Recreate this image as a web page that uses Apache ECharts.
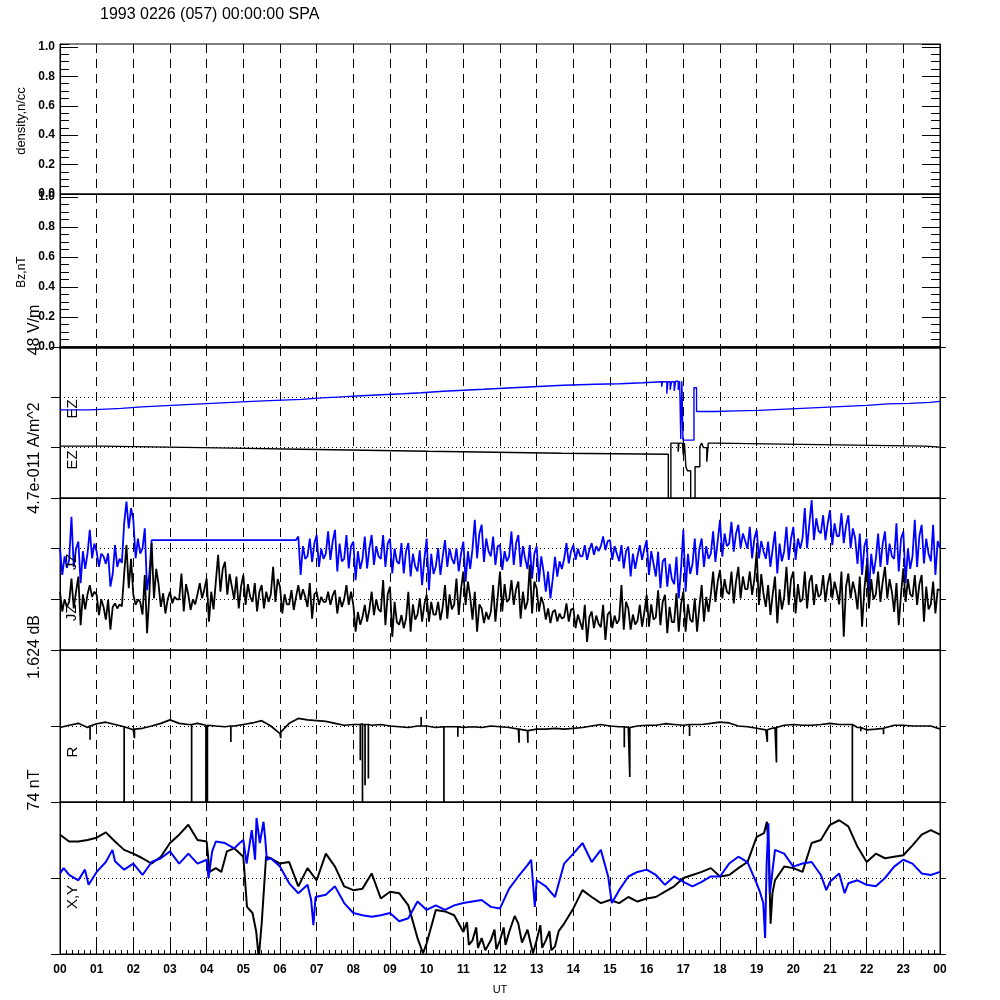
<!DOCTYPE html>
<html><head><meta charset="utf-8">
<script src="https://cdn.jsdelivr.net/npm/echarts@6/dist/echarts.min.js"></script>
<style>html,body{margin:0;padding:0;background:#fff}#c{width:1000px;height:1000px}</style>
</head><body><div id="c"></div>
<script>
// ---------- DATA ----------
const hourLabels = ['00','01','02','03','04','05','06','07','08','09','10','11','12','13','14','15','16','17','18','19','20','21','22','23','00'];
const titleText = '1993 0226 (057) 00:00:00 SPA';

// EZ (panel 3), step data [hour, value]; reference lines at 2 (blue) and 1 (black)
const ezBlue = [[0,1.75],[0.82,1.78],[1.68,1.81],[2.23,1.83],[2.77,1.85],[3.32,1.87],[3.86,1.89],[4.41,1.91],[4.95,1.93],[5.55,1.96],[6.59,1.99],[7.14,2.01],[7.68,2.03],[8.23,2.05],[8.77,2.07],[9.36,2.09],[9.86,2.12],[10.45,2.14],[11.0,2.16],[11.55,2.18],[12.09,2.2],[12.64,2.22],[13.18,2.24],[13.73,2.26],[14.6,2.27],[15.27,2.29],[15.9,2.31],
  [16.41,2.21],[16.43,2.31],[16.55,2.07],[16.58,2.31],[16.64,2.15],[16.68,2.31],[16.75,2.13],[16.79,2.32],[16.86,2.15],[16.9,2.32],[16.93,1.17],[16.96,2.32],[16.99,1.15],[17.29,2.19],[17.36,1.72],
  [17.86,1.73],[18.45,1.74],[19.05,1.76],[19.64,1.78],[20.23,1.8],[20.82,1.82],[21.41,1.84],[22.0,1.87],[22.59,1.88],[23.18,1.9],[23.73,1.92],[24,1.92]];
const ezBlack = [[0,1.03],[1.17,1.01],[2.95,0.99],[4.72,0.97],[6.55,0.95],[8.32,0.93],[10.03,0.91],[11.9,0.89],[13.68,0.87],
  [16.59,-0.1],[16.66,1.09],[16.86,0.92],[16.88,1.09],[16.98,1.05],[17.0,0.85],[17.03,1.09],[17.07,0.62],[17.11,0.54],[17.2,-0.1],[17.32,0.62],[17.45,1.02],[17.5,1.09],[17.55,1.0],[17.64,0.72],[17.68,1.09],
  [17.86,1.07],[19.73,1.05],[21.68,1.03],[23.6,1.01],[24,1.01]];

// JZ (panel 4): samples every 0.0625 h, four readings per quarter hour
const jzStep = 0.0625;
const jzBlue = [
 2.01,1.48,1.85,1.62, 1.78,2.63,1.64,2.0, 2.14,1.32,1.95,1.6, 1.9,2.37,1.81,2.1,
 1.94,1.64,1.9,1.85, 1.7,1.91,1.25,1.5, 2.07,1.64,1.8,1.72, 2.5,2.93,2.4,2.8,
 2.57,1.81,2.2,1.9, 2.0,2.40,1.18,1.5,
 2.17,2.17,2.17,2.17, 2.17,2.17,2.17,2.17, 2.17,2.17,2.17,2.17, 2.17,2.17,2.17,2.17,
 2.17,2.17,2.17,2.17, 2.17,2.17,2.17,2.17, 2.17,2.17,2.17,2.17, 2.17,2.17,2.17,2.17,
 2.17,2.17,2.17,2.17, 2.17,2.17,2.17,2.17, 2.17,2.17,2.17,2.17, 2.17,2.17,2.17,2.17,
 2.17,2.17,2.17,2.17, 2.17,2.17,2.17,2.17, 2.17,2.17,2.17,2.17, 2.17,2.17,2.17,2.17,
 2.24,1.48,2.05,1.8, 1.85,2.20,1.74,2.1, 2.27,1.64,2.0,1.8, 1.9,2.34,1.78,2.15,
 2.37,1.55,2.1,1.75, 1.8,2.27,1.61,2.05, 2.14,1.38,1.95,1.6, 1.8,2.24,1.61,2.0,
 2.27,1.68,2.05,1.85, 1.8,2.27,1.64,2.1, 2.20,1.51,2.0,1.75, 1.7,2.11,1.51,1.95,
 2.11,1.45,1.9,1.65, 1.55,1.97,1.28,1.8, 2.20,1.18,1.9,1.5, 1.65,2.01,1.48,1.85,
 2.17,1.64,2.0,1.8, 1.7,2.01,1.55,1.9, 2.14,1.35,1.95,1.6, 2.0,2.57,1.81,2.3,
 2.47,1.74,2.2,1.95, 1.85,2.24,1.68,2.05,
 2.07,1.58,1.95,1.75, 1.85,2.34,1.68,2.1, 2.27,1.64,2.05,1.8, 1.6,2.07,1.41,1.9,
 2.04,1.35,1.85,1.55, 1.15,1.55,1.02,1.4, 1.84,1.45,1.75,1.6, 1.8,2.11,1.71,1.95,
 2.07,1.78,2.0,1.85, 1.85,2.07,1.78,1.98, 2.11,1.88,2.05,1.95, 2.05,2.24,1.97,2.15,
 2.17,1.78,2.05,1.9, 1.75,2.07,1.61,1.95, 2.04,1.45,1.9,1.6, 1.85,2.07,1.78,2.0,
 2.17,1.48,1.95,1.7, 1.45,1.94,1.22,1.75, 1.81,1.25,1.7,1.4, 1.3,1.84,1.02,1.6,
 2.37,1.15,1.9,1.5, 1.7,2.20,1.48,2.0, 2.20,1.64,2.05,1.8, 1.9,2.34,1.74,2.15,
 2.57,1.84,2.3,2.05, 2.1,2.53,1.94,2.3, 2.47,2.01,2.3,2.15, 2.0,2.43,1.81,2.2,
 2.37,1.81,2.15,1.95, 1.8,2.14,1.64,2.0, 2.34,1.51,2.1,1.75, 1.95,2.43,1.78,2.2,
 2.43,1.78,2.2,2.0, 2.2,2.80,2.01,2.5, 2.96,2.17,2.6,2.35, 2.3,2.66,2.17,2.5,
 2.76,2.07,2.5,2.25, 2.25,2.70,2.11,2.45, 2.66,2.01,2.4,2.2, 1.7,2.30,1.48,2.05,
 2.20,1.15,1.9,1.5, 1.8,2.30,1.64,2.1, 2.34,1.68,2.1,1.85, 1.8,2.50,1.55,2.2,
 2.34,1.32,2.0,1.6, 1.85,2.57,1.64,2.25, 2.47,1.71,2.2,1.9, 1.75,2.47,1.48,2.15,
 2.01];
const jzBlack = [
 1.15,0.76,1.0,0.85, 0.95,1.41,0.82,1.15, 1.45,0.49,1.1,0.8, 1.1,1.28,1.05,1.15,
 1.09,0.69,1.0,0.85, 0.6,0.99,0.40,0.85, 0.92,0.82,0.9,0.86, 1.5,2.07,1.22,1.8,
 1.09,0.89,1.0,0.95, 0.7,1.48,0.33,1.1, 2.11,1.02,1.6,1.3, 0.85,1.12,0.72,1.0,
 1.15,0.92,1.05,1.0, 1.0,1.51,0.76,1.3, 1.09,0.79,1.0,0.9, 1.1,1.32,1.02,1.2,
 1.41,0.56,1.15,0.8, 1.35,1.88,1.15,1.6, 1.74,1.09,1.5,1.25, 1.0,1.45,0.82,1.25,
 1.48,0.89,1.3,1.05, 0.95,1.32,0.76,1.15, 1.28,0.82,1.15,0.95, 1.1,1.64,0.95,1.4,
 1.25,0.72,1.1,0.9, 0.9,1.18,0.79,1.05, 1.28,0.99,1.2,1.05, 0.85,1.32,0.62,1.1,
 1.15,0.89,1.05,0.95, 0.95,1.15,0.89,1.08, 1.18,0.72,1.05,0.85, 1.0,1.28,0.89,1.15,
 0.89,0.36,0.75,0.5, 0.65,0.89,0.56,0.8, 1.15,0.69,1.0,0.8, 0.75,1.38,0.49,1.1,
 1.25,0.26,0.95,0.55, 0.5,0.69,0.43,0.62, 1.15,0.36,0.9,0.6, 0.7,1.02,0.56,0.9,
 1.09,0.56,0.95,0.7, 0.7,0.95,0.59,0.85, 1.28,0.62,1.1,0.8, 0.9,1.41,0.69,1.2,
 1.55,0.89,1.35,1.05, 0.6,1.15,0.36,0.9, 0.82,0.53,0.75,0.6, 0.75,1.28,0.56,1.05,
 1.55,0.76,1.3,0.95, 1.0,1.38,0.89,1.2, 1.35,0.62,1.15,0.8, 0.95,1.68,0.72,1.35,
 1.22,0.76,1.05,0.9, 0.6,0.82,0.53,0.75, 0.79,0.56,0.72,0.62, 0.65,0.92,0.56,0.8,
 0.82,0.43,0.7,0.55, 0.4,0.89,0.16,0.65, 0.76,0.43,0.68,0.52, 0.45,0.89,0.20,0.7,
 0.76,0.43,0.68,0.52, 0.6,1.28,0.40,0.95, 0.82,0.40,0.7,0.5, 0.58,0.89,0.46,0.75,
 1.09,0.46,0.9,0.6, 0.65,1.18,0.49,0.95, 1.09,0.33,0.85,0.55, 0.55,1.12,0.36,0.9,
 1.15,0.36,0.9,0.6, 0.55,1.02,0.36,0.85, 1.28,0.56,1.05,0.75, 1.1,1.55,0.95,1.35,
 1.58,1.02,1.4,1.15, 1.1,1.55,0.92,1.35, 1.64,1.02,1.45,1.2, 1.2,1.55,1.09,1.4,
 1.94,0.89,1.5,1.1, 0.85,1.28,0.69,1.1, 1.45,0.53,1.2,0.8, 1.05,1.64,0.89,1.4,
 1.55,0.72,1.3,0.95, 1.0,1.55,0.82,1.35, 1.48,0.89,1.3,1.05, 1.1,1.48,0.95,1.3,
 1.51,1.02,1.35,1.15, 0.9,1.55,0.26,1.25, 1.51,1.02,1.35,1.15, 0.8,1.45,0.46,1.2,
 1.68,0.82,1.4,1.0, 1.1,1.55,0.95,1.35, 1.64,1.02,1.4,1.15, 0.75,1.32,0.49,1.1,
 1.61,0.95,1.4,1.1, 1.05,1.48,0.89,1.3, 1.48,0.56,1.25,0.8, 0.9,1.35,0.72,1.2,
 1.18];

// R (panel 5): baseline every 0.25 h, reference at 1
const rStep = 0.25;
const rBase = [0.98,1.01,1.035,0.98,1.03,1.05,1.02,0.99,0.95,0.97,1.0,1.035,
 1.08,1.035,1.02,1.035,1.01,1.0,0.99,1.0,1.02,1.04,1.07,1.0,
 0.90,1.035,1.10,1.08,1.07,1.06,1.035,1.01,1.02,1.03,1.01,1.02,
 1.0,0.99,0.98,1.0,1.0,0.98,0.99,0.99,0.98,0.99,0.98,1.0,
 0.99,0.98,0.96,0.94,0.96,0.96,0.97,0.96,0.97,0.98,1.0,1.02,
 1.0,0.99,0.98,1.0,1.01,1.01,1.03,1.02,1.01,1.02,1.02,1.035,
 1.05,1.04,1.0,0.99,0.97,0.95,0.98,1.01,1.02,1.01,1.01,1.02,
 1.035,1.02,1.02,0.98,0.95,0.96,0.97,1.01,1.01,1.0,1.0,1.0,
 0.96];
// spikes: [hour, baseline, tip]
const rSpikes = [[0.82,1.0,0.82],[1.75,0.99,-0.1],[2.03,0.96,0.84],[3.59,1.02,-0.1],[3.98,1.01,-0.1],[4.02,1.01,-0.1],[4.66,1.0,0.79],[6.02,0.92,0.84],[8.19,1.02,0.55],[8.25,1.02,-0.1],[8.32,1.02,0.22],[8.41,1.02,0.31],[9.85,1.0,1.12],[10.47,0.99,-0.1],[10.85,0.99,0.86],[12.52,0.96,0.78],[12.76,0.94,0.78],[15.39,0.99,0.72],[15.54,0.98,0.33],[17.17,1.02,0.87],[19.29,0.95,0.79],[19.54,0.98,0.52],[21.61,1.02,-0.1],[21.84,0.98,0.93],[22.46,0.97,0.89]];

// X (black) and Y (blue), panel 6, reference at 1
const xComp = [[0,1.57],[0.25,1.48],[0.5,1.48],[0.75,1.50],[1.0,1.53],[1.25,1.60],[1.5,1.48],[1.75,1.37],[2.0,1.32],[2.25,1.26],[2.5,1.19],[2.75,1.28],[3.0,1.46],[3.25,1.57],[3.5,1.70],[3.75,1.50],[4.0,1.48],[4.08,1.08],[4.25,1.13],[4.4,1.08],[4.55,1.35],[4.75,1.39],[5.0,1.28],[5.1,0.62],[5.25,0.54],[5.35,0.30],[5.42,-0.05],[5.5,0.40],[5.62,1.28],[5.75,1.26],[6.0,1.19],[6.25,1.21],[6.5,0.89],[6.75,1.13],[7.0,0.97],[7.25,1.32],[7.5,1.15],[7.75,0.89],[8.0,0.84],[8.25,0.86],[8.5,1.06],[8.75,0.73],[9.0,0.82],[9.25,0.80],[9.5,0.64],[9.75,0.21],[9.9,0.01],[10.0,0.14],[10.25,0.58],[10.5,0.56],[10.75,0.51],[11.0,0.29],[11.1,0.42],[11.15,0.12],[11.25,0.18],[11.35,0.35],[11.4,0.08],[11.5,0.21],[11.6,0.05],[11.75,0.18],[11.85,0.32],[11.9,0.06],[12.0,0.18],[12.1,0.35],[12.15,0.12],[12.25,0.29],[12.4,0.5],[12.5,0.40],[12.6,0.15],[12.75,0.32],[12.9,0.01],[13.0,0.18],[13.1,0.38],[13.15,0.08],[13.25,0.18],[13.35,0.3],[13.4,0.05],[13.5,0.10],[13.6,0.3],[13.75,0.40],[14.0,0.60],[14.25,0.84],[14.5,0.75],[14.75,0.67],[15.0,0.71],[15.25,0.67],[15.5,0.75],[15.75,0.69],[16.0,0.73],[16.25,0.75],[16.5,0.82],[16.75,0.89],[17.0,1.00],[17.25,1.04],[17.5,1.08],[17.75,1.13],[18.0,1.02],[18.25,1.04],[18.5,1.13],[18.75,1.21],[19.0,1.54],[19.2,1.59],[19.28,1.74],[19.33,1.32],[19.38,0.40],[19.43,0.80],[19.5,0.97],[19.75,1.15],[20.0,1.13],[20.25,1.08],[20.5,1.46],[20.75,1.50],[21.0,1.70],[21.25,1.76],[21.5,1.68],[21.75,1.41],[22.0,1.21],[22.25,1.32],[22.5,1.26],[22.75,1.28],[23.0,1.30],[23.25,1.43],[23.5,1.57],[23.75,1.63],[24.0,1.57]];
const yComp = [[0,1.06],[0.1,1.13],[0.25,1.04],[0.5,0.97],[0.68,1.11],[0.78,0.91],[1.0,1.08],[1.25,1.21],[1.43,1.37],[1.5,1.22],[1.75,1.11],[2.0,1.19],[2.25,1.04],[2.5,1.21],[2.75,1.26],[3.0,1.35],[3.25,1.19],[3.5,1.32],[3.75,1.19],[4.0,1.24],[4.05,1.0],[4.15,1.35],[4.25,1.48],[4.5,1.46],[4.75,1.39],[4.9,1.46],[5.0,1.50],[5.09,1.19],[5.23,1.63],[5.32,1.24],[5.36,1.79],[5.45,1.46],[5.55,1.74],[5.6,1.50],[5.64,1.24],[5.75,1.26],[6.0,1.15],[6.25,0.93],[6.5,0.80],[6.75,0.91],[6.85,0.71],[6.91,0.38],[6.97,0.75],[7.0,0.75],[7.25,0.78],[7.5,0.89],[7.75,0.67],[8.0,0.54],[8.25,0.51],[8.5,0.49],[8.75,0.51],[9.0,0.54],[9.25,0.43],[9.5,0.47],[9.75,0.69],[10.0,0.58],[10.25,0.64],[10.5,0.58],[10.75,0.64],[11.0,0.67],[11.25,0.69],[11.5,0.71],[11.75,0.62],[12.0,0.60],[12.25,0.86],[12.5,1.02],[12.75,1.17],[12.85,1.24],[12.95,0.62],[13.0,0.97],[13.25,0.89],[13.5,0.75],[13.75,1.19],[14.0,1.32],[14.25,1.46],[14.5,1.21],[14.75,1.37],[14.95,1.02],[15.05,0.67],[15.25,0.84],[15.5,1.02],[15.75,1.08],[16.0,1.11],[16.25,1.04],[16.5,0.91],[16.75,1.02],[17.0,0.95],[17.25,0.89],[17.5,0.95],[17.75,1.02],[18.0,1.02],[18.25,1.19],[18.5,1.28],[18.75,1.21],[19.0,0.93],[19.1,0.80],[19.18,0.67],[19.23,0.21],[19.27,1.15],[19.32,1.72],[19.36,0.80],[19.5,1.37],[19.75,1.32],[20.0,1.15],[20.25,1.19],[20.5,1.21],[20.75,1.04],[20.9,0.84],[21.0,0.95],[21.25,1.06],[21.4,0.80],[21.5,0.93],[21.75,0.97],[22.0,0.91],[22.25,0.89],[22.5,1.0],[22.75,1.15],[23.0,1.24],[23.25,1.19],[23.5,1.06],[23.75,1.04],[24.0,1.08]];

// ---------- CHART ----------
const FONT = '"Liberation Sans", Arial, sans-serif';
const BLUE = '#0000ff';
const panels = [{top:44,h:150,max:1.02},{top:194,h:153,max:1.02},{top:347,h:151,max:3},{top:498,h:152,max:3},{top:650,h:152,max:2},{top:802,h:152,max:2}];

const grids = panels.map(p => ({left:60, width:880, top:p.top, height:p.h, show:true, borderColor:'#000', borderWidth:1, backgroundColor:'transparent'}));
const xAxes = panels.map((p,i) => ({
  gridIndex:i, type:'value', min:0, max:24, interval:1,
  axisLine:{show:true, onZero:false, lineStyle:{color:'#000', width: i===1 ? 2.5 : 1}},
  axisTick:{show:i===5, inside:true, length:8, lineStyle:{color:'#000'}},
  minorTick:{show:i===5, splitNumber:6, length:4, lineStyle:{color:'#000'}},
  axisLabel:{show:i===5, formatter:v => hourLabels[v], color:'#000', fontFamily:FONT, fontSize:12, fontWeight:'bold', margin:10},
  splitLine:{show:true, showMinLine:false, showMaxLine:false, lineStyle:{color:'#000', type:[9,6], width:1}}
}));
const yAxes = [];
const mainY = [];
panels.forEach((p,i) => {
  if (i < 2) {
    mainY.push(yAxes.length);
    ['left','right'].forEach(pos => {
      yAxes.push({gridIndex:i, type:'value', position:pos, min:0, max:p.max, interval:0.2,
        axisLine:{show:true, onZero:false, lineStyle:{color:'#000'}},
        axisTick:{show:true, inside:true, length:18, lineStyle:{color:'#000'}},
        axisLabel:{show:pos==='left', showMaxLabel:false, formatter:v => v.toFixed(1), color:'#000', fontFamily:FONT, fontSize:12, fontWeight:'bold', margin:5},
        splitLine:{show:false}});
      yAxes.push({gridIndex:i, type:'value', position:pos, min:0, max:p.max, interval:0.05,
        axisLine:{show:false},
        axisTick:{show:true, inside:true, length:9, lineStyle:{color:'#000'}},
        axisLabel:{show:false}, splitLine:{show:false}});
    });
  } else {
    mainY.push(yAxes.length);
    yAxes.push({gridIndex:i, type:'value', position:'left', min:0, max:p.max, interval:1,
      axisLine:{show:true, onZero:false, lineStyle:{color:'#000'}},
      axisTick:{show:true, inside:false, length:9, lineStyle:{color:'#000'}},
      axisLabel:{show:false},
      splitLine:{show:true, showMinLine:false, showMaxLine:false, lineStyle:{color:'#000', type:[1,3], width:1}}});
    yAxes.push({gridIndex:i, type:'value', position:'right', min:0, max:p.max, interval:1,
      axisLine:{show:true, onZero:false, lineStyle:{color:'#000'}},
      axisTick:{show:true, inside:false, length:6, lineStyle:{color:'#000'}},
      axisLabel:{show:false}, splitLine:{show:false}});
  }
});

function lineSeries(panel, data, color, width, extra) {
  return Object.assign({type:'line', xAxisIndex:panel, yAxisIndex:mainY[panel], data:data, showSymbol:false, symbol:'none',
    lineStyle:{color:color, width:width}, itemStyle:{color:color}, clip:true, silent:true, animation:false}, extra || {});
}
const jzBlueData = jzBlue.map((v,i) => [i*jzStep, v]);
const jzBlackData = jzBlack.map((v,i) => [i*jzStep, v]);
const rData = rBase.map((v,i) => [i*rStep, v]);
rSpikes.forEach(s => { rData.push([s[0], s[1]], [s[0], s[2]], [s[0], s[1]]); });
rData.sort((a,b) => a[0]-b[0]);

const series = [
  lineSeries(2, ezBlue, BLUE, 1.4, {step:'end'}),
  lineSeries(2, ezBlack, '#000', 1.4, {step:'end'}),
  lineSeries(3, jzBlueData, BLUE, 1.8),
  lineSeries(3, jzBlackData, '#000', 1.8),
  lineSeries(4, rData, '#000', 1.7),
  lineSeries(5, xComp, '#000', 2),
  lineSeries(5, yComp, BLUE, 2)
];

function vtext(txt, x, y, size) {
  return {type:'text', x:x, y:y, rotation:Math.PI/2, silent:true, z:100,
    style:{text:txt, fill:'#000', font:'normal ' + size + 'px ' + FONT, align:'center', verticalAlign:'middle'}};
}
const graphics = [
  {type:'text', x:100, y:15, silent:true, style:{text:titleText, fill:'#000', font:'normal 16px ' + FONT, align:'left', verticalAlign:'middle'}},
  vtext('density,n/cc', 21, 121, 13),
  vtext('Bz,nT', 22, 272, 12),
  vtext('48 V/m', 35, 330, 16),
  vtext('4.7e-011 A/m^2', 35, 458, 16),
  vtext('1.624 dB', 35, 647, 16),
  vtext('74 nT', 35, 790, 16),
  vtext('EZ', 73, 409, 15),
  vtext('EZ', 73, 460, 15),
  vtext('JZ', 72, 562, 15),
  vtext('JZ', 72, 613, 15),
  vtext('R', 73, 752, 15),
  vtext('X,Y', 73, 897, 15),
  {type:'text', x:500, y:990, silent:true, style:{text:'UT', fill:'#000', font:'normal 11px ' + FONT, align:'center', verticalAlign:'middle'}}
];

const chart = echarts.init(document.getElementById('c'), null, {renderer:'canvas'});
chart.setOption({
  animation:false,
  backgroundColor:'#fff',
  grid:grids, xAxis:xAxes, yAxis:yAxes, series:series, graphic:graphics
});
</script></body></html>
